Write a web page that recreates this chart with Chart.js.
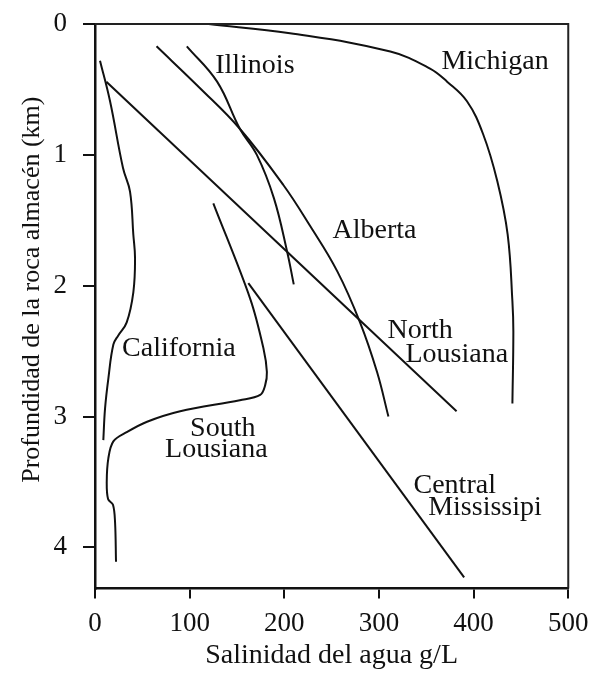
<!DOCTYPE html>
<html>
<head>
<meta charset="utf-8">
<script src="https://cdn.jsdelivr.net/npm/chart.js@4/dist/chart.umd.min.js"></script>
<style>
  html, body { margin: 0; padding: 0; background: #ffffff; }
  #wrap { width: 593px; height: 673px; position: relative; }
</style>
</head>
<body>
<div id="wrap"><canvas id="c"></canvas></div>
<script>
// ---- Data (salinity g/L on x, depth km on y) ----
const xTicks = [0, 100, 200, 300, 400, 500];
const yTicks = [0, 1, 2, 3, 4];

const michiganX = [120, 206, 312, 354, 372, 393, 410, 425, 436, 441, 442, 441];
const michiganY = [0.00, 0.07, 0.21, 0.34, 0.44, 0.59, 0.84, 1.20, 1.61, 2.12, 2.35, 2.90];

const illinoisX = [97, 129, 153, 171, 189, 203, 210];
const illinoisY = [0.17, 0.44, 0.80, 1.00, 1.33, 1.74, 1.99];

const albertaX = [65, 111, 153, 199, 227, 256, 280, 298, 310];
const albertaY = [0.17, 0.49, 0.80, 1.23, 1.54, 1.89, 2.28, 2.66, 3.00];

const northLouisianaX = [12, 382];
const northLouisianaY = [0.44, 2.96];

const centralMississippiX = [162, 390];
const centralMississippiY = [1.98, 4.23];

const southLouisianaX = [125, 164, 178, 181.6, 179.8, 174.5, 153, 90, 55, 33.5, 19.4, 14.1, 12.4, 13.8, 19, 21.2, 22.2];
const southLouisianaY = [1.37, 2.10, 2.48, 2.66, 2.76, 2.835, 2.875, 2.96, 3.04, 3.12, 3.19, 3.32, 3.50, 3.63, 3.675, 3.81, 4.11];

const californiaX = [5.3, 15.9, 29.6, 37, 40.5, 42.3, 40.5, 33.5, 24.6, 19.4, 14.1, 10.6, 8.8];
const californiaY = [0.28, 0.59, 1.10, 1.28, 1.61, 1.79, 2.05, 2.28, 2.38, 2.45, 2.71, 2.94, 3.18];

// text labels placed in data coordinates (left edge, vertical middle)
const labelTexts = ["Illinois", "Michigan", "Alberta", "North", "Lousiana", "California", "South", "Lousiana", "Central", "Mississipi"];
const labelX = [127, 366, 251, 309, 328, 28.6, 100.5, 74, 336.5, 352];
const labelY = [0.32, 0.29, 1.58, 2.34, 2.53, 2.48, 3.09, 3.25, 3.53, 3.70];

const xTitle = "Salinidad del agua g/L";
const yTitle = "Profundidad de la roca almacén (km)";

// ---- build datasets ----
function pts(xs, ys) { return xs.map((x, i) => ({ x: x, y: ys[i] })); }
function ds(name, xs, ys, tension) {
  return {
    label: name, data: pts(xs, ys), showLine: true, pointRadius: 0,
    borderColor: '#111', borderWidth: 2, tension: tension, fill: false
  };
}

const datasets = [
  ds('Michigan', michiganX, michiganY, 0.4),
  ds('Illinois', illinoisX, illinoisY, 0.4),
  ds('Alberta', albertaX, albertaY, 0.4),
  ds('North Lousiana', northLouisianaX, northLouisianaY, 0),
  ds('Central Mississipi', centralMississippiX, centralMississippiY, 0),
  ds('South Lousiana', southLouisianaX, southLouisianaY, 0.35),
  ds('California', californiaX, californiaY, 0.4)
];

const FONT = "'Liberation Serif', 'Times New Roman', serif";

const framePlugin = {
  id: 'frame',
  afterDatasetsDraw(chart) {
    const { ctx, chartArea: a, scales } = chart;
    ctx.save();
    // top and right borders
    ctx.strokeStyle = '#222';
    ctx.lineWidth = 2;
    ctx.beginPath();
    ctx.moveTo(a.left, a.top);
    ctx.lineTo(a.right, a.top);
    ctx.lineTo(a.right, a.bottom);
    ctx.stroke();
    // annotation labels
    ctx.fillStyle = '#111';
    ctx.font = "28px " + FONT;
    ctx.textAlign = 'left';
    ctx.textBaseline = 'middle';
    labelTexts.forEach((t, i) => {
      ctx.fillText(t, scales.x.getPixelForValue(labelX[i]), scales.y.getPixelForValue(labelY[i]));
    });
    // y-axis title (drawn manually, slightly above the axis centre as in the source)
    ctx.font = "26px " + FONT;
    ctx.textAlign = 'center';
    ctx.translate(32, scales.y.getPixelForValue(2.03));
    ctx.rotate(-Math.PI / 2);
    ctx.fillText(yTitle, 0, 0);
    ctx.restore();
  }
};

new Chart(document.getElementById('c'), {
  type: 'scatter',
  data: { datasets: datasets },
  options: {
    responsive: true,
    maintainAspectRatio: false,
    animation: false,
    layout: { padding: { left: 37.5, right: 0, top: 0, bottom: 0 } },
    plugins: { legend: { display: false }, tooltip: { enabled: false } },
    scales: {
      x: {
        type: 'linear', min: 0, max: 500,
        afterBuildTicks(axis) { axis.ticks = xTicks.map(v => ({ value: v })); },
        ticks: { color: '#111', font: { family: FONT, size: 27, lineHeight: 1.52 }, padding: 4.5, maxRotation: 0 },
        grid: { drawOnChartArea: false, drawTicks: true, tickLength: 10, color: '#111', lineWidth: 2 },
        border: { display: true, color: '#111', width: 2.5 },
        title: { display: true, text: xTitle, color: '#111', font: { family: FONT, size: 28, lineHeight: 0.1 }, padding: { top: 6, bottom: 15.6 } }
      },
      y: {
        type: 'linear', min: 0, max: 4.315, reverse: true,
        afterBuildTicks(axis) { axis.ticks = yTicks.map(v => ({ value: v })); },
        ticks: { color: '#111', font: { family: FONT, size: 27, lineHeight: 0.6 }, padding: 16 },
        grid: { drawOnChartArea: false, drawTicks: true, tickLength: 12, color: '#111', lineWidth: 2 },
        border: { display: true, color: '#111', width: 2.5 },
        title: { display: false }
      }
    }
  },
  plugins: [framePlugin]
});
</script>
</body>
</html>
